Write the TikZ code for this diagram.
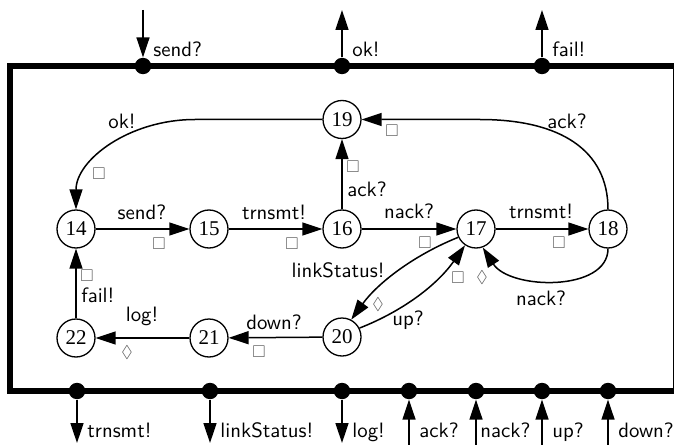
\documentclass[tikz,border=0pt]{standalone}
\usepackage{fontspec}
\usepackage{amssymb}
\newfontfamily\numfont{Liberation Serif}
\usetikzlibrary{arrows.meta}
\begin{document}
\begin{tikzpicture}[x=0.5pt,y=-0.5pt,
  state/.style={circle,draw,line width=0.65pt,minimum size=19pt,inner sep=0pt,font=\numfont\fontsize{10.5}{12}\selectfont},
  port/.style={circle,fill,inner sep=0pt,minimum size=8.2pt},
  lbl/.style={font=\sffamily\fontsize{10.4}{12}\selectfont,inner sep=0pt},
  sq/.style={inner sep=0pt,text=black!65,font=\fontsize{8.5}{8.5}\selectfont},
  edge/.style={line width=0.75pt,-{Triangle[length=10pt,width=6.5pt]}},
  frame/.style={line width=2.6pt},
]
\useasboundingbox (0,0) rectangle (674,444);
\draw[frame] (10,66) rectangle (675.5,391);
% top ports
\node[port] (pSend) at (143,66) {};
\node[port] (pOk) at (342,66) {};
\node[port] (pFail) at (542,66) {};
\coordinate (tSend) at (143,10);
\coordinate (tOk) at (342,10);
\coordinate (tFail) at (542,10);
\draw[edge] (tSend) -- (pSend);
\draw[edge] (pOk) -- (tOk);
\draw[edge] (pFail) -- (tFail);
\node[lbl,anchor=base west] (lSend) at (153,57) {send?};
\node[lbl,anchor=base west] (lOk) at (352,57) {ok!};
\node[lbl,anchor=base west] (lFail) at (552,57) {fail!};
% bottom ports
\node[port] (pTr) at (77,391) {};
\node[port] (pLs) at (210,391) {};
\node[port] (pLog) at (342,391) {};
\node[port] (pAck) at (409,391) {};
\node[port] (pNack) at (476,391) {};
\node[port] (pUp) at (542,391) {};
\node[port] (pDown) at (608,391) {};
\coordinate (bTr) at (77,443);
\coordinate (bLs) at (210,443);
\coordinate (bLog) at (342,443);
\coordinate (bAck) at (409,445);
\coordinate (bNack) at (476,445);
\coordinate (bUp) at (542,445);
\coordinate (bDown) at (608,445);
\draw[edge] (pTr) -- (bTr);
\draw[edge] (pLs) -- (bLs);
\draw[edge] (pLog) -- (bLog);
\draw[edge] (bAck) -- (pAck);
\draw[edge] (bNack) -- (pNack);
\draw[edge] (bUp) -- (pUp);
\draw[edge] (bDown) -- (pDown);
\node[lbl,anchor=base west] (lTr) at (87,437) {trnsmt!};
\node[lbl,anchor=base west] (lLs) at (220,437) {linkStatus!};
\node[lbl,anchor=base west] (lLog) at (352,437) {log!};
\node[lbl,anchor=base west] (lAck) at (419,437) {ack?};
\node[lbl,anchor=base west] (lNack) at (480,437) {nack?};
\node[lbl,anchor=base west] (lUp) at (552,437) {up?};
\node[lbl,anchor=base west] (lDown) at (618,437) {down?};
% states
\node[state] (s14) at (76,229) {14};
\node[state] (s15) at (209,229) {15};
\node[state] (s16) at (342,229) {16};
\node[state] (s17) at (476,229) {17};
\node[state] (s18) at (608,229) {18};
\node[state] (s19) at (342,119.5) {19};
\node[state] (s20) at (342,337) {20};
\node[state] (s21) at (209,338) {21};
\node[state] (s22) at (76,338) {22};
% edges
\draw[edge] (s14) -- (s15);
\draw[edge] (s15) -- (s16);
\draw[edge] (s16) -- (s17);
\draw[edge] (s17) -- (s18);
\draw[edge] (s16) -- (s19);
\draw[edge] (s22) -- (s14);
\draw[edge] (s20) -- (s21);
\draw[edge] (s21) -- (s22);
\draw[edge] (s18.north) .. controls (608,150) and (560,119.5) .. (480,119.5) -- (s19.east);
\draw[edge] (s19.west) -- (195,119.5) .. controls (129,119.5) and (76,160) .. (s14.north);
\draw[edge] (s18.south) .. controls (608,292) and (510,290) .. (s17.-70);
\draw[edge] (s17.205) .. controls (412,256) and (377,284) .. (s20.62);
\draw[edge] (s20.27) .. controls (403,311) and (437,285) .. (s17.236);
% edge labels
\node[lbl] (e1) at (142,212) {send?};
\node[lbl] (e2) at (274,212) {trnsmt!};
\node[lbl] (e3) at (409,211) {nack?};
\node[lbl] (e4) at (541,211) {trnsmt!};
\node[lbl] (e5) at (122,121) {ok!};
\node[lbl] (e6) at (567,121) {ack?};
\node[lbl,anchor=west] (e7) at (347,189) {ack?};
\node[lbl] (e8) at (338,270) {linkStatus!};
\node[lbl] (e9) at (408,320) {up?};
\node[lbl] (e10) at (541,298) {nack?};
\node[lbl] (e11) at (274,322) {down?};
\node[lbl] (e12) at (142,316) {log!};
\node[lbl,anchor=west] (e13) at (81,295) {fail!};
% modalities
\node[sq] (m1) at (159,244) {$\square$};
\node[sq] (m2) at (292,244) {$\square$};
\node[sq] (m3) at (425,243) {$\square$};
\node[sq] (m4) at (559,243) {$\square$};
\node[sq] (m5) at (99,174) {$\square$};
\node[sq] (m6) at (392,131) {$\square$};
\node[sq] (m7) at (353,167) {$\square$};
\node[sq] (m8) at (458,278) {$\square$};
\node[sq] (m9) at (259,352) {$\square$};
\node[sq] (m10) at (87,276) {$\square$};
\node[sq] (d1) at (378,305) {$\lozenge$};
\node[sq] (d2) at (482,278) {$\lozenge$};
\node[sq] (d3) at (127,353) {$\lozenge$};
\end{tikzpicture}
\end{document}
